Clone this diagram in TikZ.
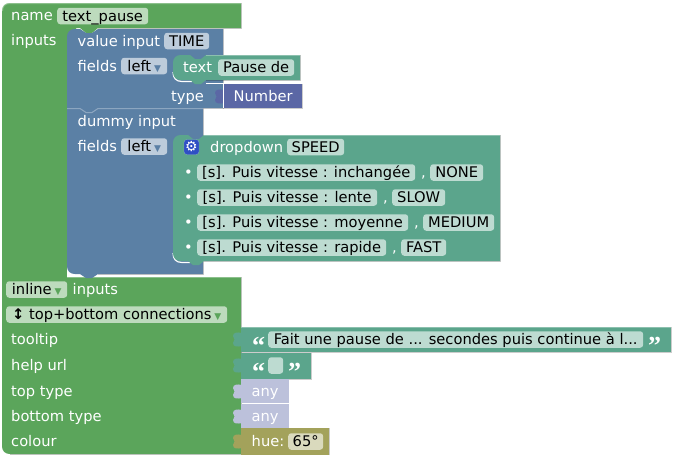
\documentclass[tikz,border=0pt]{standalone}
\usepackage{fontspec}
\setmainfont{DejaVu Sans}
\newfontfamily\quotefont{Liberation Serif}
\definecolor{greenblock}{HTML}{5BA55B}
\definecolor{blueblock}{HTML}{5B80A5}
\definecolor{tealblock}{HTML}{5BA58C}
\definecolor{purpleblock}{HTML}{5B67A5}
\definecolor{anyblock}{HTML}{BCC1DB}
\definecolor{hueblock}{HTML}{A3A25B}
\definecolor{gearblue}{HTML}{2F4FC4}
\newcommand{\blocktab}[3]{\fill[#3] (#1+1,#2+6) .. controls (#1-3,#2+5) and (#1-8,#2+5) .. (#1-8,#2+9) .. controls (#1-8,#2+11) and (#1-6.5,#2+11) .. (#1-6.5,#2+12.5) .. controls (#1-6.5,#2+14) and (#1-8,#2+14) .. (#1-8,#2+16) .. controls (#1-8,#2+20) and (#1-3,#2+20) .. (#1+1,#2+19) -- cycle;}
\newcommand{\pilldown}[1]{{\fontsize{9}{9}\selectfont\textcolor{#1}{\ ▼}}}
\tikzset{
  labeltext/.style={anchor=west, inner sep=0pt, text=white, text height=13pt, text depth=2pt},
  pill/.style={anchor=west, inner sep=0pt, rounded corners=3pt, text=black, minimum height=16.5pt, text height=12pt, text depth=2pt, align=center},
  greenpill/.style={pill, fill=greenblock!40!white},
  bluepill/.style={pill, fill=blueblock!40!white},
  tealpill/.style={pill, fill=tealblock!40!white},
  huepill/.style={pill, fill=hueblock!40!white},
  quotemark/.style={anchor=west, inner sep=0pt, text=white, text height=6pt, text depth=0pt, font=\quotefont\bfseries\fontsize{26}{26}\selectfont},
  lightedge/.style={white, opacity=0.3, line width=1pt},
  darkedge/.style={black, opacity=0.2, line width=1pt},
  whiteedge/.style={white, line width=1.2pt},
  every node/.style={font=\fontsize{14.67}{17}\selectfont}
}
\begin{document}
\begin{tikzpicture}[x=1pt, y=-1pt]
    \useasboundingbox (0,0) rectangle (673,455);
    % Blocks
    \fill[greenblock] (241,3) -- (10,3) .. controls (5,3) and (2,6) .. (2,11) -- (2,446) .. controls (2,451) and (5,454) .. (10,454) -- (241,454) -- (241,277) -- (67,277) -- (67,37) -- (76,37) -- (76,28) -- (80,28) -- (86,33) -- (92,33) -- (98,28) -- (241,28) -- cycle;
    \draw[lightedge] (2.5,11) .. controls (2.5,6) and (5,3.5) .. (10,3.5) -- (241,3.5);
    \draw[darkedge] (241,3) -- (241,28) -- (98,28);
    \draw[darkedge] (241,277) -- (241,454) -- (10,454);
    \draw[lightedge] (67,277.5) -- (241,277.5);
    \fill[white] (67,260) rectangle (215,277);
    \fill[blueblock] (75,29) -- (80,29) -- (86,33) -- (92,33) -- (98,29) -- (223,29) -- (223,108) -- (203,108) -- (203,274) -- (98,274) -- (92,278) -- (86,278) -- (80,274) -- (75,274) .. controls (70,274) and (67,271) .. (67,266) -- (67,37) .. controls (67,32) and (70,29) .. (75,29) -- cycle;
    \draw[lightedge] (67,108.5) -- (80,108.5) -- (86,112.5) -- (92,112.5) -- (98,108.5) -- (203,108.5);
    \draw[darkedge] (223,29) -- (223,108) -- (203,108) -- (203,274) -- (98,274);
    \draw[whiteedge] (173,72) .. controls (173,78) and (176,81.5) .. (182,81.5) -- (192,81.5);
    \draw[white, line width=0.8pt] (206,83.5) -- (300,83.5);
    \fill[tealblock] (181,55) -- (190,55) -- (195,59) -- (201,59) -- (206,55) -- (300,55) -- (300,80) -- (206,80) -- (201,84) -- (195,84) -- (190,80) -- (181,80) .. controls (176,80) and (173,77) .. (173,72) -- (173,63) .. controls (173,58) and (176,55) .. (181,55) -- cycle;
    \draw[lightedge] (206,55.5) -- (300,55.5);
    \draw[darkedge] (300,55) -- (300,80) -- (206,80);
    \blocktab{223}{84}{purpleblock}
    \fill[purpleblock] (223,84) rectangle (302,108);
    \draw[darkedge] (302,84) -- (302,108) -- (223,108);
    \draw[white, line width=0.8pt] (223,84) -- (223,108);
    \draw[whiteedge] (173,253) .. controls (173,259) and (176,262.5) .. (182,262.5) -- (190,262.5);
    \fill[tealblock] (181,135) -- (188,135) -- (193,139) -- (199,139) -- (204,135) -- (500,135) -- (500,261) -- (204,261) -- (199,265) -- (193,265) -- (188,261) -- (181,261) .. controls (176,261) and (173,258) .. (173,253) -- (173,143) .. controls (173,138) and (176,135) .. (181,135) -- cycle;
    \draw[lightedge] (204,135.5) -- (500,135.5);
    \draw[darkedge] (500,135) -- (500,261) -- (204,261);
    % Value blocks
    \blocktab{241}{327}{tealblock}
    \fill[tealblock] (241,327) rectangle (671,352);
    \draw[lightedge] (241,327.5) -- (671,327.5);
    \draw[darkedge] (671,327) -- (671,352) -- (241,352);
    \blocktab{241}{353}{tealblock}
    \fill[tealblock] (241,353) rectangle (311,379);
    \draw[darkedge] (311,353) -- (311,379) -- (241,379);
    \blocktab{241}{379}{anyblock}
    \fill[anyblock] (241,379) rectangle (289,403);
    \blocktab{241}{404}{anyblock}
    \fill[anyblock] (241,404) rectangle (289,428);
    \blocktab{241}{429}{hueblock}
    \fill[hueblock] (241,428) rectangle (329,455);
    \draw[darkedge] (329,428) -- (329,455);
    % Labels
    \node[labeltext] at (11,15) (namelabel) {name};
    \node[greenpill, minimum width=91] at (57,16) (namefield) {text\_pause};
    \node[labeltext] at (11,40) (inputslabel) {inputs};
    \node[labeltext] at (77.5,41) (valuelabel) {value input};
    \node[bluepill, minimum width=45] at (164,41) (timefield) {TIME};
    \node[labeltext] at (77.5,66) (fieldsone) {fields};
    \node[bluepill, minimum width=46] at (121,66) (leftone) {left\pilldown{blueblock}};
    \node[labeltext] at (183,67) (textlabel) {text};
    \node[tealpill, minimum width=76] at (218,67.5) (pausefield) {Pause de};
    \node[labeltext] at (171,96) (typelabel) {type};
    \node[labeltext] at (233.5,96) (numberlabel) {Number};
    \node[labeltext] at (77.5,121) (dummylabel) {dummy input};
    \node[labeltext] at (77.5,146) (fieldstwo) {fields};
    \node[bluepill, minimum width=46] at (121,146.5) (lefttwo) {left\pilldown{blueblock}};
    \node[fill=gearblue, draw=white, draw opacity=0.3, rounded corners=3pt, minimum size=15pt, inner sep=0pt, text=white] at (191.5,147) (gearicon) {\fontsize{14}{14}\selectfont ⚙};
    \node[labeltext] at (210,147) (dropdownlabel) {dropdown};
    \node[tealpill, minimum width=57] at (287,147) (speedfield) {SPEED};
    % Dropdown rows
    \node[labeltext] at (184,172) (bulletone) {•};
    \node[tealpill, minimum width=218] at (197,172.5) (rowone) {[s]. Puis vitesse : inchangée};
    \node[labeltext] at (421,172) (commaone) {,};
    \node[tealpill, minimum width=53] at (430,172.5) (noneone) {NONE};
    \node[labeltext] at (184,197) (bullettwo) {•};
    \node[tealpill, minimum width=180] at (197,197.5) (rowtwo) {[s]. Puis vitesse : lente};
    \node[labeltext] at (383,197) (commatwo) {,};
    \node[tealpill, minimum width=53] at (392,197.5) (slowtwo) {SLOW};
    \node[labeltext] at (184,222) (bulletthree) {•};
    \node[tealpill, minimum width=211] at (197,222.5) (rowthree) {[s]. Puis vitesse : moyenne};
    \node[labeltext] at (414,222) (commathree) {,};
    \node[tealpill, minimum width=71] at (423,222.5) (mediumthree) {MEDIUM};
    \node[labeltext] at (184,247) (bulletfour) {•};
    \node[tealpill, minimum width=189] at (197,247.5) (rowfour) {[s]. Puis vitesse : rapide};
    \node[labeltext] at (392,247) (commafour) {,};
    \node[tealpill, minimum width=45] at (401,247.5) (fastfour) {FAST};
    % Lower part
    \node[greenpill, minimum width=61] at (6,289.5) (inlinefield) {inline\pilldown{greenblock}};
    \node[labeltext] at (72.5,289) (inputstwo) {inputs};
    \node[greenpill, minimum width=221] at (6,314.5) (connfield) {\textbf{↕} top+bottom connections\pilldown{greenblock}};
    \node[labeltext] at (11,339) (tooltiplabel) {tooltip};
    \node[labeltext] at (11,365) (helplabel) {help url};
    \node[labeltext] at (11,391) (toplabel) {top type};
    \node[labeltext] at (11,416) (bottomlabel) {bottom type};
    \node[labeltext] at (11,441) (colourlabel) {colour};
    \node[quotemark] at (252,351) (openone) {“};
    \node[tealpill, minimum width=375] at (268,339.5) (tooltipfield) {Fait une pause de ... secondes puis continue à l...};
    \node[quotemark] at (648,351) (closeone) {”};
    \node[quotemark] at (252,377) (opentwo) {“};
    \node[tealpill, minimum width=15] at (268,365.5) (helpfield) {};
    \node[quotemark] at (288,377) (closetwo) {”};
    \node[labeltext] at (251.5,391) (anyone) {any};
    \node[labeltext] at (251.5,416) (anytwo) {any};
    \node[labeltext] at (251.5,441) (huelabel) {hue:};
    \node[huepill, minimum width=35] at (288,441.5) (huefield) {65°};
\end{tikzpicture}
\end{document}
